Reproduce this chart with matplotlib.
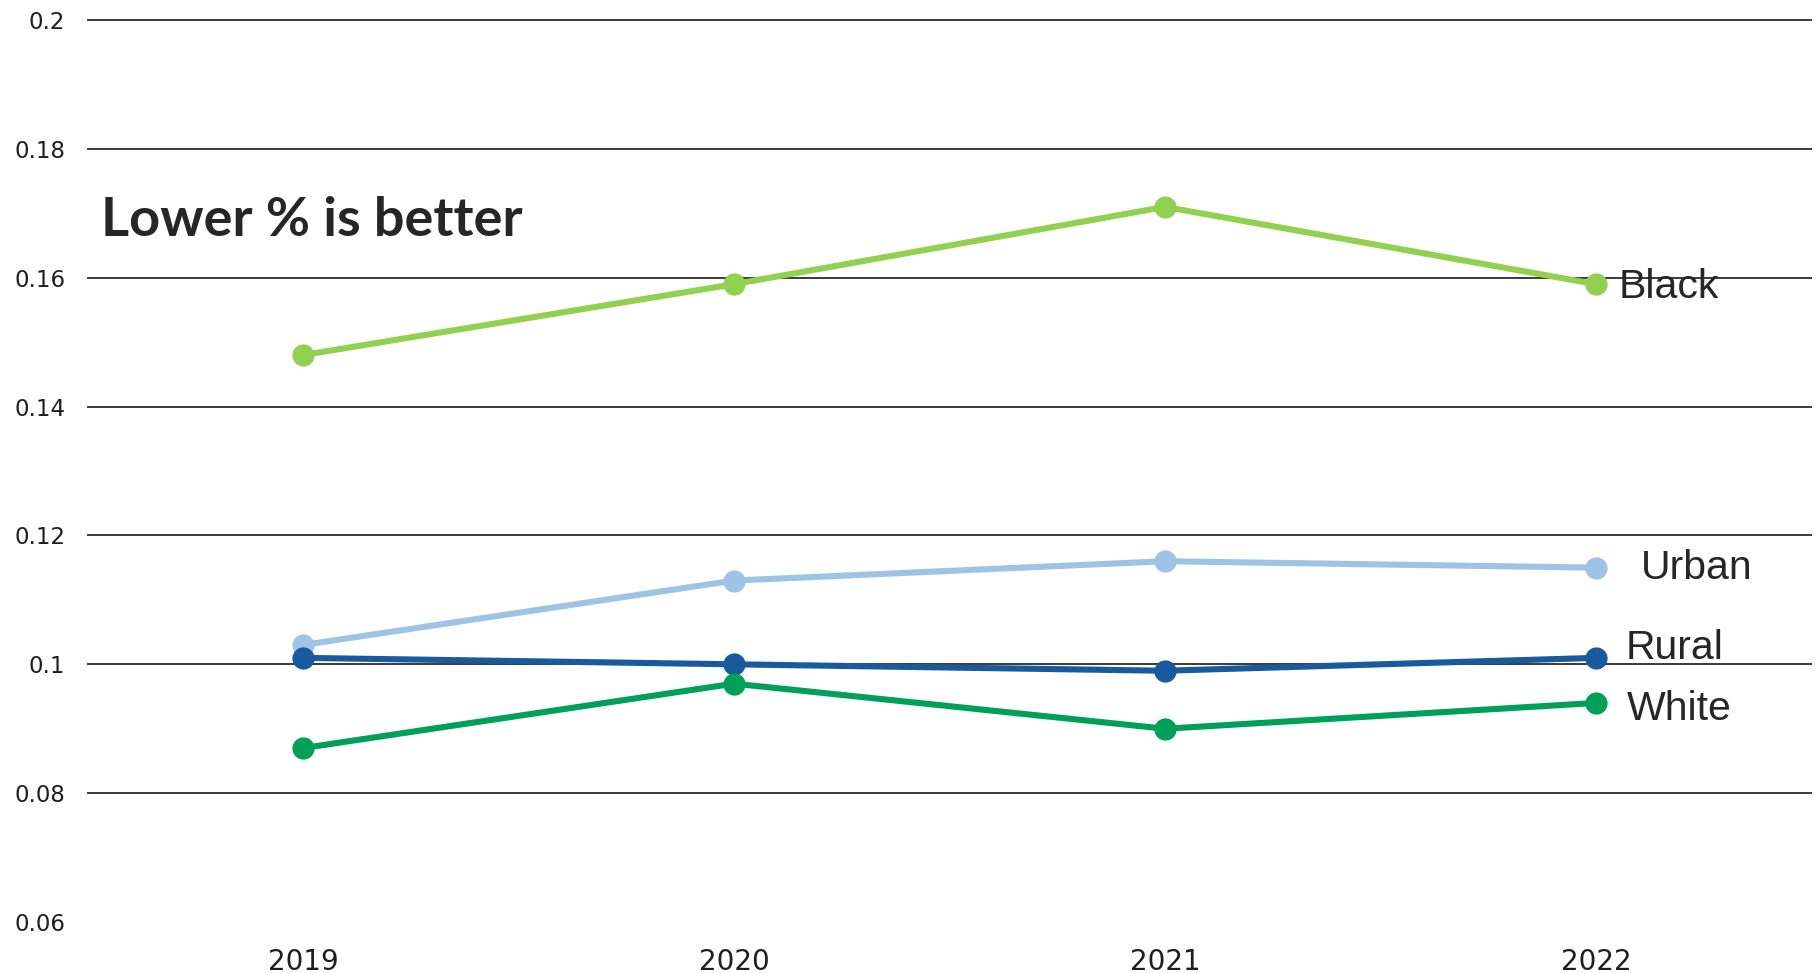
import matplotlib.pyplot as plt

years = ["2019", "2020", "2021", "2022"]
black = [0.148, 0.159, 0.171, 0.159]
urban = [0.103, 0.113, 0.116, 0.115]
rural = [0.101, 0.100, 0.099, 0.101]
white = [0.087, 0.097, 0.090, 0.094]
yticks = [0.06, 0.08, 0.1, 0.12, 0.14, 0.16, 0.18, 0.2]
ytick_labels = ["0.06", "0.08", "0.1", "0.12", "0.14", "0.16", "0.18", "0.2"]

# name, values, colour, label y, label x offset (pt)
series = [
    ("Black", black, "#92D050", 0.1585, 16),
    ("Urban", urban, "#9DC3E6", 0.1150, 32),
    ("Rural", rural, "#185A9D", 0.1025, 21),
    ("White", white, "#00A05A", 0.0930, 22),
]

plt.rcParams['font.family'] = ['Liberation Sans', 'DejaVu Sans']

fig = plt.figure(figsize=(18.16, 9.73), dpi=100)
ax = fig.add_axes([0.0482, 0.0524, 0.9493, 0.927])

x = range(len(years))
for name, vals, color, ylab, dx in series:
    ax.plot(x, vals, color=color, linewidth=4.4, marker="o", markersize=15,
            solid_capstyle="round", zorder=3)
    ax.annotate(name, xy=(3, ylab), xytext=(dx, 0), textcoords="offset points",
                ha="left", va="center", fontsize=29.5, color="#262626", zorder=4)

ax.set_xlim(-0.5, 3.5)
ax.set_ylim(0.06, 0.2)
ax.set_xticks(list(x))
ax.set_xticklabels(years, fontsize=20, color="#1e1e1e", family="DejaVu Sans")
ax.set_yticks(yticks)
ax.set_yticklabels(ytick_labels, fontsize=16.5, color="#1e1e1e", family="DejaVu Sans")
ax.tick_params(axis="both", length=0)
ax.tick_params(axis="y", pad=16)
ax.tick_params(axis="x", pad=19)

ax.grid(axis="y", color="#3a3a3a", linewidth=1.4, zorder=1)
ax.set_axisbelow(True)
for gl in ax.yaxis.get_gridlines():
    gl.set_clip_on(False)
ax.yaxis.get_gridlines()[0].set_visible(False)
for s in ax.spines.values():
    s.set_visible(False)

ax.text(0.008, 0.778, "Lower % is better", transform=ax.transAxes,
        fontsize=39, fontweight="bold", family=["Lato", "DejaVu Sans"],
        color="#262626", va="center", ha="left")

fig.savefig("out.png", dpi=100)
